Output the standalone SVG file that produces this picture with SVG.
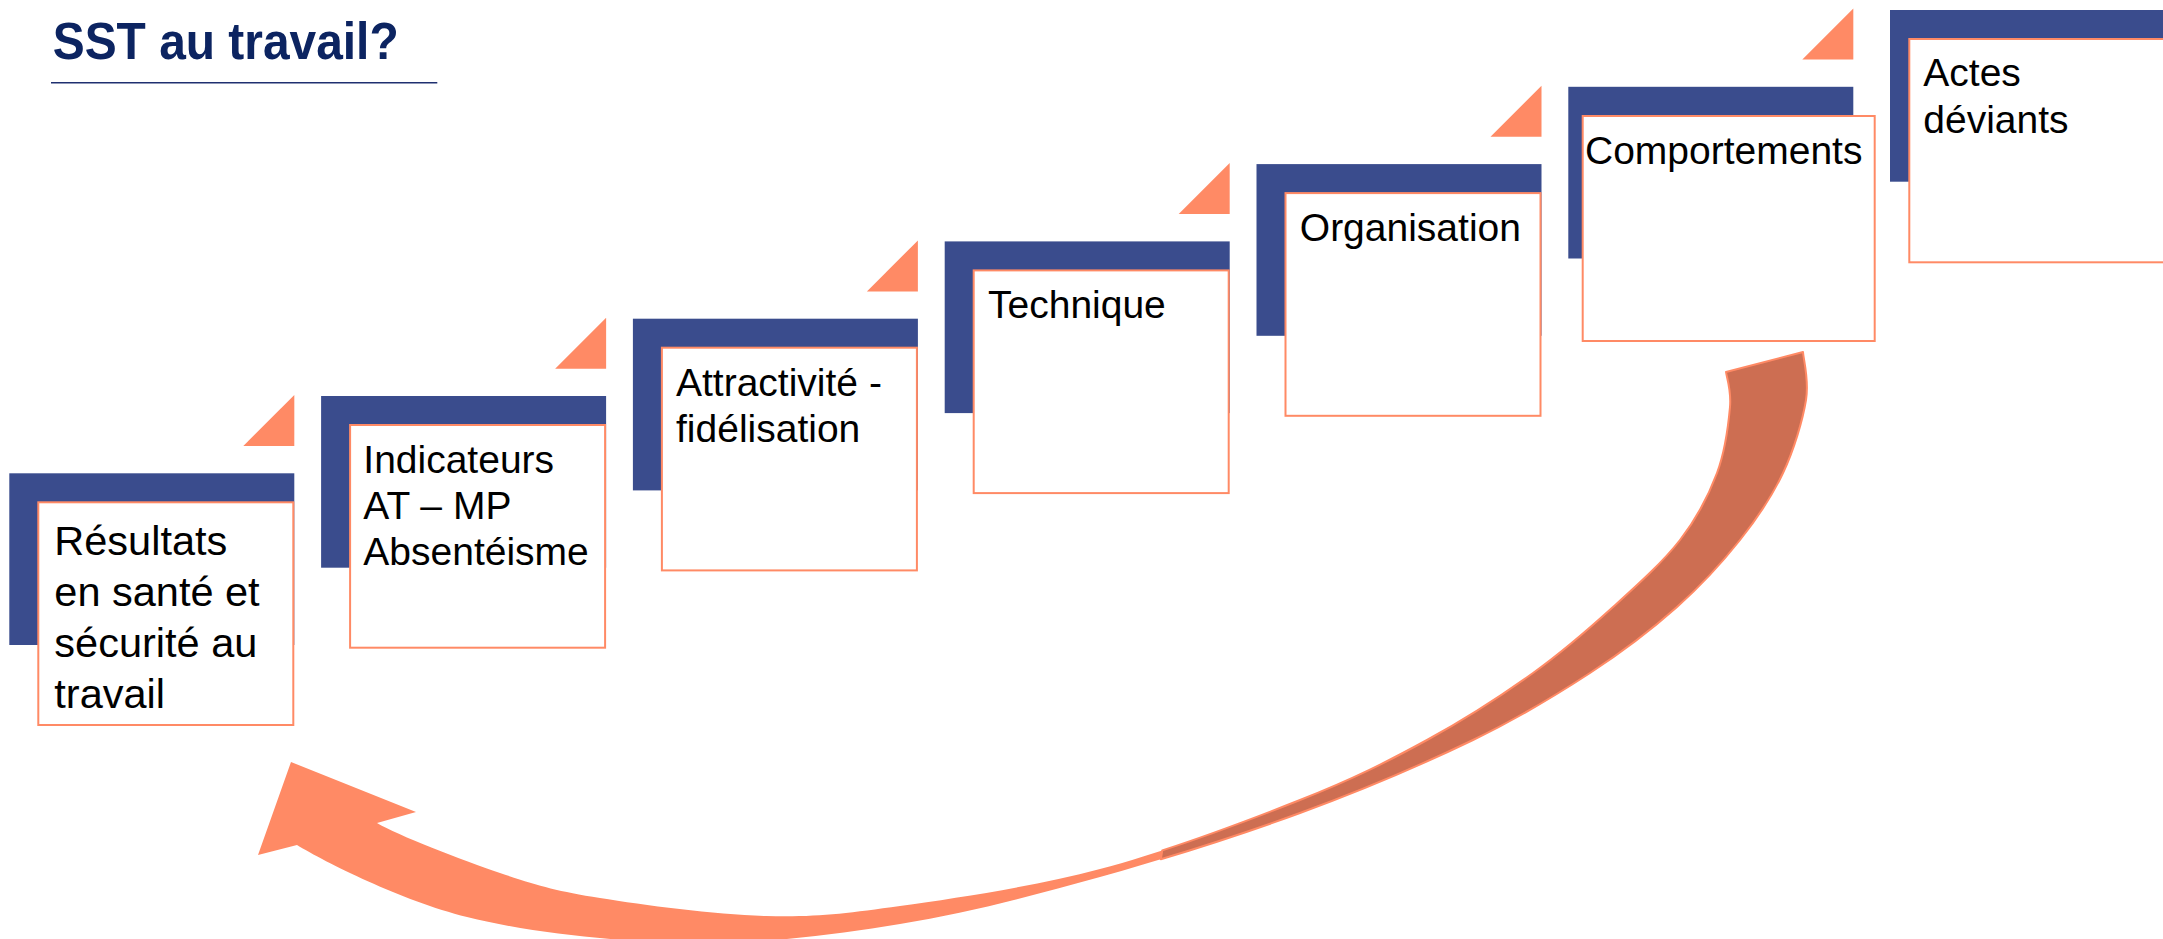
<svg xmlns="http://www.w3.org/2000/svg" width="2163" height="939" viewBox="0 0 2163 939">
<style>
.bar{fill:#3A4C8D}
.box{fill:#FFFFFF;stroke:#FF8A65;stroke-width:2}
.tri{fill:#FF8A65}
.lbl{font-family:"Liberation Sans",Arial,sans-serif;font-size:39px;fill:#000000}
.title{font-family:"Liberation Sans",Arial,sans-serif;font-weight:bold;font-size:52px;fill:#0C2461}
.front{fill:#FF8A65}
.back{fill:#CD6E52;stroke:#FF8A65;stroke-width:2;stroke-linejoin:round}
</style>
<rect width="2163" height="939" fill="#FFFFFF"/>
<g id="title">
<text class="title" x="52.7" y="59.3" textLength="346" lengthAdjust="spacingAndGlyphs">SST au travail?</text>
<line x1="51" y1="82.7" x2="437.3" y2="82.7" stroke="#1F3070" stroke-width="1.5"/>
</g>
<g id="node1">
<polygon class="tri" points="243.3,446 294.3,446 294.3,395"/>
<rect class="bar" x="9.3" y="473.3" width="285" height="171.7"/>
<rect class="box" x="38.3" y="502.3" width="255" height="222.7"/>
<text class="lbl" style="font-size:41.5px" x="54.3" y="555">Résultats</text>
<text class="lbl" style="font-size:41.5px" x="54.3" y="606">en santé et</text>
<text class="lbl" style="font-size:41.5px" x="54.3" y="657">sécurité au</text>
<text class="lbl" style="font-size:41.5px" x="54.3" y="708">travail</text>
</g>
<g id="node2">
<polygon class="tri" points="555.1,368.7 606.1,368.7 606.1,317.7"/>
<rect class="bar" x="321.1" y="396" width="285" height="171.7"/>
<rect class="box" x="350.1" y="425" width="255" height="222.7"/>
<text class="lbl" x="363.3" y="473.3">Indicateurs</text>
<text class="lbl" x="363.3" y="519.3">AT – MP</text>
<text class="lbl" x="363.3" y="565">Absentéisme</text>
</g>
<g id="node3">
<polygon class="tri" points="866.9,291.4 917.9,291.4 917.9,240.4"/>
<rect class="bar" x="632.9" y="318.7" width="285" height="171.7"/>
<rect class="box" x="661.9" y="347.7" width="255" height="222.7"/>
<text class="lbl" x="676" y="395.7">Attractivité -</text>
<text class="lbl" x="676" y="441.7">fidélisation</text>
</g>
<g id="node4">
<polygon class="tri" points="1178.7,214.1 1229.7,214.1 1229.7,163.1"/>
<rect class="bar" x="944.7" y="241.4" width="285" height="171.7"/>
<rect class="box" x="973.7" y="270.4" width="255" height="222.7"/>
<text class="lbl" x="988" y="318.4">Technique</text>
</g>
<g id="node5">
<polygon class="tri" points="1490.5,136.8 1541.5,136.8 1541.5,85.8"/>
<rect class="bar" x="1256.5" y="164.1" width="285" height="171.7"/>
<rect class="box" x="1285.5" y="193.1" width="255" height="222.7"/>
<text class="lbl" x="1299.8" y="241.1">Organisation</text>
</g>
<g id="node6">
<polygon class="tri" points="1802.3,59.5 1853.3,59.5 1853.3,8.5"/>
<rect class="bar" x="1568.3" y="86.8" width="285" height="171.7"/>
<rect class="box" x="1582.7" y="116" width="292" height="225"/>
<text class="lbl" x="1585" y="164">Comportements</text>
</g>
<g id="node7">
<rect class="bar" x="1890" y="10" width="300" height="171.7"/>
<rect class="box" x="1909.3" y="39" width="300" height="223.3"/>
<text class="lbl" x="1923.3" y="86">Actes</text>
<text class="lbl" x="1923.3" y="132.7">déviants</text>
</g>
<g id="connectors">
<path class="front" d="M377,823 L416,812 L291,762 L258,855 L297,845 C325,862 401.5,900.7 467,917 C532.5,933.3 617.8,941.8 690,943 C762.2,944.2 831.7,935 900,924 C968.3,913 1033.3,895.5 1100,877 C1166.7,858.5 1237.8,835.8 1300,813 C1362.2,790.2 1424.7,763.3 1473,740 C1521.3,716.7 1556,695.2 1590,673 C1624,650.8 1652,629.2 1677,607 C1702,584.8 1722.3,562.3 1740,540 C1757.7,517.7 1772,496.3 1783,473 C1794,449.7 1802.7,420.2 1806,400 C1809.3,379.8 1803.5,360 1803,352 L1726,372 C1726.7,377.8 1731.5,390.2 1730,407 C1728.5,423.8 1725.3,450.8 1717,473 C1708.7,495.2 1697.3,517.7 1680,540 C1662.7,562.3 1637.5,584.8 1613,607 C1588.5,629.2 1564,650.8 1533,673 C1502,695.2 1465.8,718.8 1427,740 C1388.2,761.2 1354.5,778.5 1300,800 C1245.5,821.5 1166.7,851.3 1100,869 C1033.3,886.7 955.7,898.2 900,906 C844.3,913.8 816,917.3 766,916 C716,914.7 644.3,905.2 600,898 C555.7,890.8 537.2,885.5 500,873 C462.8,860.5 397,835 377,823 Z"/>
<path class="back" d="M1803,352 C1803.5,360 1809.3,379.8 1806,400 C1802.7,420.2 1794,449.7 1783,473 C1772,496.3 1757.7,517.7 1740,540 C1722.3,562.3 1702,584.8 1677,607 C1652,629.2 1624,650.8 1590,673 C1556,695.2 1521.3,716.7 1473,740 C1424.7,763.3 1362.2,790.2 1300,813 C1256.5,829 1208.5,844.9 1160.8,859.3 L1162.3,850.4 C1211.9,834.2 1261.9,815.1 1300,800 C1354.5,778.5 1388.2,761.2 1427,740 C1465.8,718.8 1502,695.2 1533,673 C1564,650.8 1588.5,629.2 1613,607 C1637.5,584.8 1662.7,562.3 1680,540 C1697.3,517.7 1708.7,495.2 1717,473 C1725.3,450.8 1728.5,423.8 1730,407 C1731.5,390.2 1726.7,377.8 1726,372 Z"/>
</g>
</svg>
